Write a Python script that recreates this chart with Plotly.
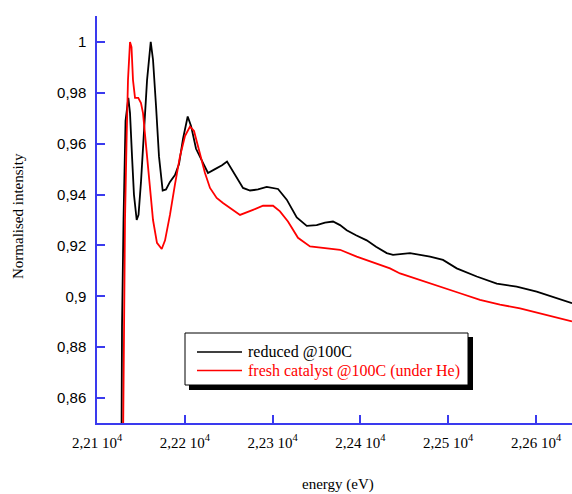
import plotly.graph_objects as go

# Reduced @100C (black)
energy_reduced = [22127.9, 22128.5, 22130.2, 22131.3, 22132.5, 22135.7, 22137.6, 22139.9, 22142.1,
                  22145.2, 22147.3, 22150.1, 22153.5, 22157.0, 22161.2, 22163.8, 22167.2, 22170.6,
                  22174.8, 22178.6, 22183.1, 22188.8, 22193.4, 22198.0, 22203.3, 22207.1, 22212.8,
                  22219.3, 22226.4, 22234.4, 22242.4, 22248.1, 22252.6, 22257.2, 22266.3, 22274.3,
                  22283.4, 22293.3, 22306.2, 22316.1, 22327.5, 22338.9, 22350.2, 22359.7, 22368.8,
                  22376.8, 22384.4, 22395.0, 22407.2, 22417.8, 22430.0, 22437.1, 22456.5, 22479.3,
                  22494.1, 22509.7, 22532.5, 22555.3, 22578.0, 22600.8, 22623.6, 22641.0]
intensity_reduced = [0.840, 0.888, 0.930, 0.955, 0.969, 0.978, 0.972, 0.955, 0.940,
                     0.930, 0.932, 0.945, 0.965, 0.985, 1.000, 0.993, 0.975, 0.955,
                     0.9416, 0.942, 0.945, 0.9477, 0.952, 0.962, 0.9707, 0.967, 0.958,
                     0.9536, 0.9485, 0.950, 0.9515, 0.953, 0.9505, 0.9477, 0.9426, 0.9416,
                     0.942, 0.943, 0.9422, 0.938, 0.931, 0.9277, 0.928, 0.929, 0.9294,
                     0.928, 0.926, 0.924, 0.922, 0.9195, 0.917, 0.9163, 0.917, 0.9156,
                     0.9143, 0.911, 0.9078, 0.905, 0.9038, 0.9018, 0.8992, 0.8973]

# Fresh catalyst @100C under He (red)
energy_fresh = [22129.6, 22130.8, 22131.9, 22133.6, 22135.3, 22137.6, 22139.3, 22141.0, 22143.3,
                22147.0, 22150.1, 22152.4, 22155.8, 22159.2, 22163.8, 22168.3, 22173.7, 22177.5,
                22183.1, 22188.8, 22194.5, 22200.2, 22205.9, 22210.5, 22217.3, 22223.0, 22228.7,
                22236.3, 22243.5, 22251.5, 22262.9, 22277.7, 22289.1, 22300.5, 22308.4, 22317.5,
                22328.9, 22342.6, 22361.6, 22376.8, 22395.8, 22418.6, 22433.7, 22445.1, 22467.9,
                22490.7, 22513.5, 22536.2, 22559.0, 22581.8, 22604.6, 22627.4, 22641.0]
intensity_fresh = [0.840, 0.889, 0.930, 0.960, 0.985, 1.000, 0.998, 0.985, 0.978,
                   0.978, 0.976, 0.972, 0.960, 0.945, 0.930, 0.921, 0.9186, 0.922,
                   0.932, 0.944, 0.955, 0.963, 0.9667, 0.965, 0.956, 0.9485, 0.9426,
                   0.9387, 0.9367, 0.9348, 0.932, 0.934, 0.9356, 0.9356, 0.9334, 0.9294,
                   0.923, 0.9196, 0.919, 0.9183, 0.9156, 0.913, 0.911, 0.909, 0.9065,
                   0.9038, 0.9012, 0.8986, 0.8967, 0.8953, 0.8934, 0.8914, 0.8901]

series_names = ["reduced @100C", "fresh catalyst @100C (under He)"]
series_colors = ["black", "red"]

x_tickvals = [22100, 22200, 22300, 22400, 22500, 22600]
x_ticktext = ["2,21 10<sup>4</sup>", "2,22 10<sup>4</sup>", "2,23 10<sup>4</sup>",
              "2,24 10<sup>4</sup>", "2,25 10<sup>4</sup>", "2,26 10<sup>4</sup>"]
y_tickvals = [0.86, 0.88, 0.90, 0.92, 0.94, 0.96, 0.98, 1.00]
y_ticktext = ["0,86", "0,88", "0,9", "0,92", "0,94", "0,96", "0,98", "1"]

AXIS = "#3a3aee"
SERIF = "Liberation Serif, Times New Roman, serif"
SANS = "Liberation Sans, Arial, sans-serif"

L, R, T, B = 97, 0, 16, 71
W, H = 572, 494
PW, PH = W - L - R, H - T - B


def px_x(p):
    return (p - L) / PW


def px_y(p):
    return (H - B - p) / PH


fig = go.Figure()
for xs, ys, nm, col in [(energy_reduced, intensity_reduced, series_names[0], series_colors[0]),
                        (energy_fresh, intensity_fresh, series_names[1], series_colors[1])]:
    fig.add_trace(go.Scatter(x=xs, y=ys, mode="lines", name=nm,
                             line=dict(color=col, width=1.8), showlegend=False))

# boxed legend with drop shadow
fig.add_shape(type="rect", xref="paper", yref="paper",
              x0=px_x(189), x1=px_x(473), y0=px_y(390), y1=px_y(337),
              fillcolor="black", line=dict(width=0), layer="above")
fig.add_shape(type="rect", xref="paper", yref="paper",
              x0=px_x(185), x1=px_x(468), y0=px_y(385), y1=px_y(333),
              fillcolor="white", line=dict(color="black", width=1), layer="above")
for i, (nm, col) in enumerate(zip(series_names, series_colors)):
    yy = px_y(352 + 18.5 * i)
    fig.add_shape(type="line", xref="paper", yref="paper",
                  x0=px_x(197), x1=px_x(242), y0=yy, y1=yy,
                  line=dict(color=col, width=1.3), layer="above")
    fig.add_annotation(text=nm, xref="paper", yref="paper", x=px_x(246), y=yy,
                       xanchor="left", yanchor="middle", showarrow=False,
                       font=dict(family=SERIF, size=16, color=col))

fig.add_annotation(text="Normalised intensity", xref="paper", yref="paper",
                   x=px_x(18), y=px_y(216), textangle=-90, showarrow=False,
                   xanchor="center", yanchor="middle",
                   font=dict(family=SERIF, size=15, color="black"))
fig.add_annotation(text="energy (eV)", xref="paper", yref="paper",
                   x=px_x(338), y=px_y(484), showarrow=False,
                   xanchor="center", yanchor="middle",
                   font=dict(family=SERIF, size=15, color="black"))

fig.update_layout(
    width=W, height=H,
    margin=dict(l=L, r=R, t=T, b=B, autoexpand=False),
    paper_bgcolor="white", plot_bgcolor="white",
    showlegend=False,
    xaxis=dict(range=[22100, 22641], tickvals=x_tickvals, ticktext=x_ticktext,
               automargin=False,
               showgrid=False, zeroline=False, showline=True, linecolor=AXIS, linewidth=1.5,
               ticks="inside", ticklen=8, tickcolor=AXIS, tickwidth=1.5,
               tickfont=dict(family=SERIF, size=15, color="black"),
               ticklabelstandoff=5),
    yaxis=dict(range=[0.8502, 1.0102], tickvals=y_tickvals, ticktext=y_ticktext,
               automargin=False,
               showgrid=False, zeroline=False, showline=True, linecolor=AXIS, linewidth=1.5,
               ticks="inside", ticklen=8, tickcolor=AXIS, tickwidth=1.5,
               tickfont=dict(family=SANS, size=15, color="black"),
               ticklabelstandoff=6),
)
fig.write_html("out.html", config={"displayModeBar": False},
               post_script="document.body.style.margin='0px';")
